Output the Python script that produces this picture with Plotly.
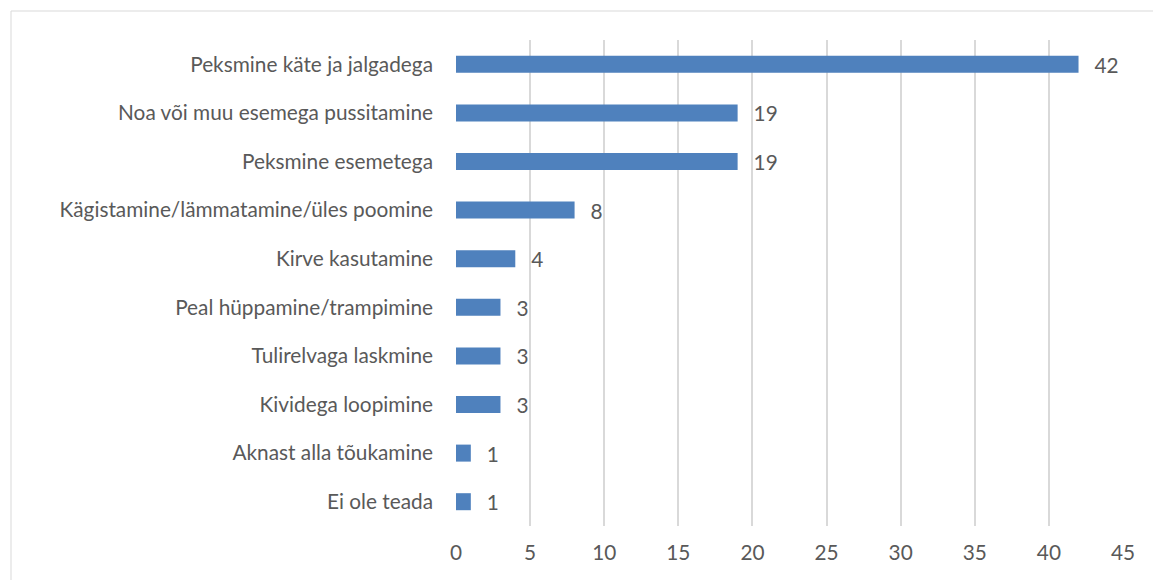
import plotly.graph_objects as go

categories = [
    "Peksmine käte ja jalgadega",
    "Noa või muu esemega pussitamine",
    "Peksmine esemetega",
    "Kägistamine/lämmatamine/üles poomine",
    "Kirve kasutamine",
    "Peal hüppamine/trampimine",
    "Tulirelvaga laskmine",
    "Kividega loopimine",
    "Aknast alla tõukamine",
    "Ei ole teada",
]
values = [42, 19, 19, 8, 4, 3, 3, 3, 1, 1]
x_ticks = [0, 5, 10, 15, 20, 25, 30, 35, 40, 45]

FONT = "Lato, Open Sans, sans-serif"
TEXT_COLOR = "#595959"
FONT_SIZE = 20.8

fig = go.Figure(
    go.Bar(
        y=categories,
        x=values,
        orientation="h",
        marker=dict(color="#4F81BD", line=dict(width=0)),
        width=0.35,
        texttemplate="\u2002\u2009%{x}",
        textposition="outside",
        constraintext="none",
        textfont=dict(family=FONT, size=FONT_SIZE, color=TEXT_COLOR),
        cliponaxis=False,
    )
)

fig.update_layout(
    width=1153,
    height=580,
    margin=dict(l=456, r=30, t=40, b=54),
    paper_bgcolor="white",
    plot_bgcolor="white",
    showlegend=False,
    font=dict(family=FONT, size=FONT_SIZE, color=TEXT_COLOR),
    xaxis=dict(
        range=[0, 45],
        tickvals=x_ticks,
        showgrid=True,
        gridcolor="#D9D9D9",
        gridwidth=2,
        zeroline=False,
        showline=False,
        ticks="",
        ticklabelstandoff=12,
        tickfont=dict(family=FONT, size=FONT_SIZE, color=TEXT_COLOR),
    ),
    yaxis=dict(
        categoryorder="array",
        categoryarray=categories[::-1],
        showgrid=False,
        zeroline=False,
        showline=False,
        ticks="",
        ticklabelstandoff=22,
        tickfont=dict(family=FONT, size=FONT_SIZE, color=TEXT_COLOR),
    ),
    shapes=[
        dict(
            type="rect",
            xref="paper",
            yref="paper",
            x0=(11 - 456) / 667,
            x1=1.2,
            y0=-0.3,
            y1=(526 - 11) / 486,
            line=dict(color="#D9D9D9", width=1),
            fillcolor="rgba(0,0,0,0)",
            layer="below",
        )
    ],
)

fig.write_html("out.html")
